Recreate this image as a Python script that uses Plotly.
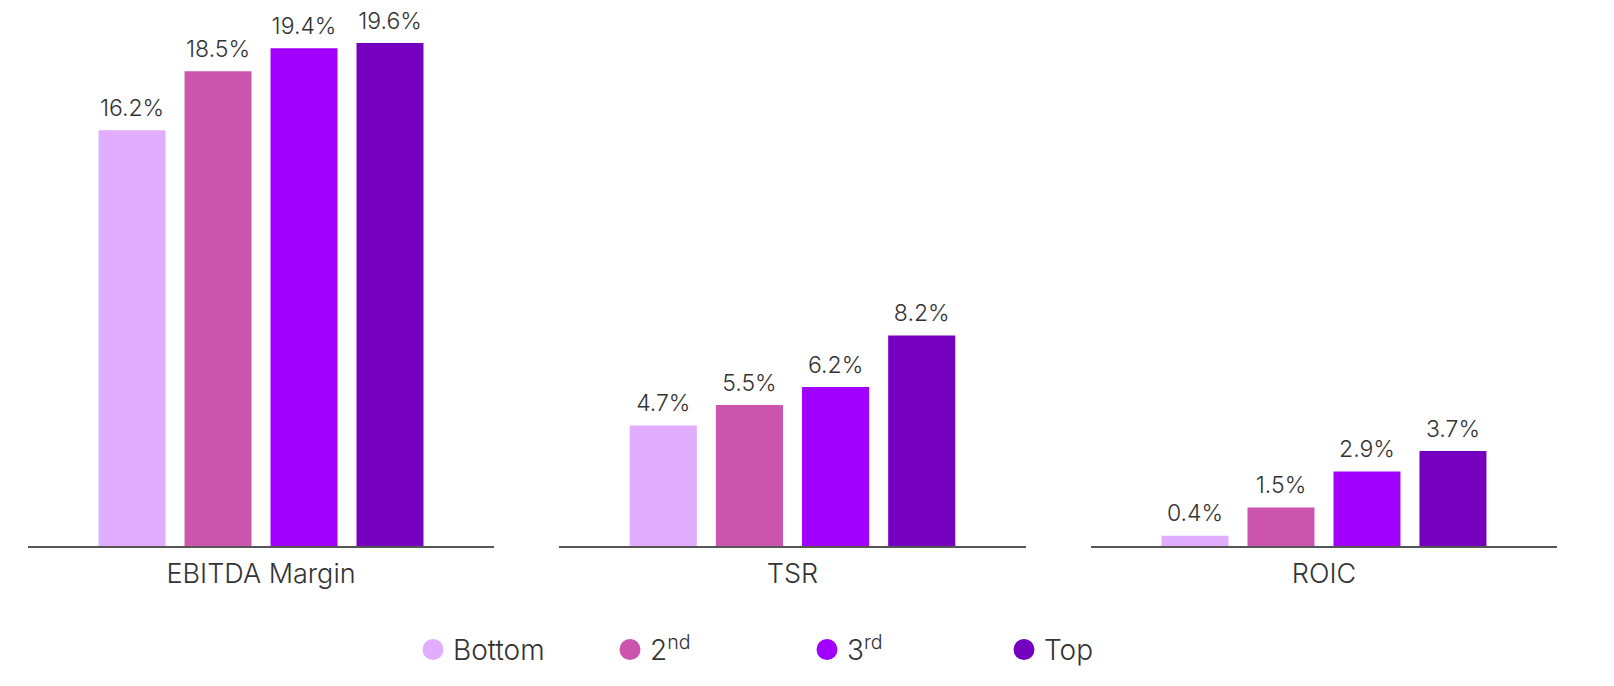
import plotly.graph_objects as go

metrics = ["EBITDA Margin", "TSR", "ROIC"]
series = ["Bottom", "2<sup>nd</sup>", "3<sup>rd</sup>", "Top"]
values = {
    "Bottom": [16.2, 4.7, 0.4],
    "2<sup>nd</sup>": [18.5, 5.5, 1.5],
    "3<sup>rd</sup>": [19.4, 6.2, 2.9],
    "Top": [19.6, 8.2, 3.7],
}
colors = ["#E1AEFF", "#CB54AD", "#A100FF", "#7500C0"]

FONT = "Inter"
TXT = "#333333"

fig = go.Figure()
axes = ["x", "x2", "x3"]
for mi, m in enumerate(metrics):
    for si, s in enumerate(series):
        v = values[s][mi]
        fig.add_trace(go.Bar(
            x=[m], y=[v], xaxis=axes[mi], yaxis="y",
            marker=dict(color=colors[si], line=dict(width=0)),
            showlegend=False, offsetgroup=str(si), hoverinfo="skip",
        ))
        fig.add_trace(go.Scatter(
            x=[m], y=[v], xaxis=axes[mi], yaxis="y",
            mode="markers+text", text=[f"{v:.1f}%"], textposition="top center",
            marker=dict(size=12, color="rgba(0,0,0,0)"),
            textfont=dict(family=FONT, size=23, color=TXT, weight=300),
            cliponaxis=False, showlegend=False, offsetgroup=str(si),
            hoverinfo="skip",
        ))

for si, s in enumerate(series):
    fig.add_trace(go.Scatter(
        x=[None], y=[None], mode="markers", name=s,
        marker=dict(symbol="circle", size=16, color=colors[si],
                    line=dict(color=colors[si], width=5)),
        showlegend=True,
    ))

axis_common = dict(
    showline=True, linecolor="#555555", linewidth=1.5, showgrid=False,
    ticks="", tickfont=dict(family=FONT, size=27, color=TXT, weight=300),
    ticklabelstandoff=3,
    fixedrange=True, type="category", anchor="y",
)
doms = [[0.0, 0.3048], [0.3473, 0.6527], [0.6952, 1.0]]
fig.update_layout(
    xaxis=dict(domain=doms[0], **axis_common),
    xaxis2=dict(domain=doms[1], **axis_common),
    xaxis3=dict(domain=doms[2], **axis_common),
    yaxis=dict(range=[0, 20.5], visible=False, fixedrange=True),
    barmode="group", bargap=0.262, bargroupgap=0.221,
    scattermode="group", scattergap=0.262,
    width=1614, height=686,
    margin=dict(l=28, r=57, t=20, b=139),
    plot_bgcolor="white", paper_bgcolor="white",
    font=dict(family=FONT, color=TXT, weight=300),
    legend=dict(
        orientation="h", x=0.2518, xanchor="left", y=-0.195, yanchor="middle",
        font=dict(family=FONT, size=28, color=TXT, weight=300),
        entrywidth=152, entrywidthmode="pixels", itemclick=False,
        itemdoubleclick=False,
    ),
    showlegend=True,
)
fig.write_html(
    "out.html",
    config={"displayModeBar": False},
    post_script="document.body.style.margin='0';document.body.style.overflow='hidden';",
)
